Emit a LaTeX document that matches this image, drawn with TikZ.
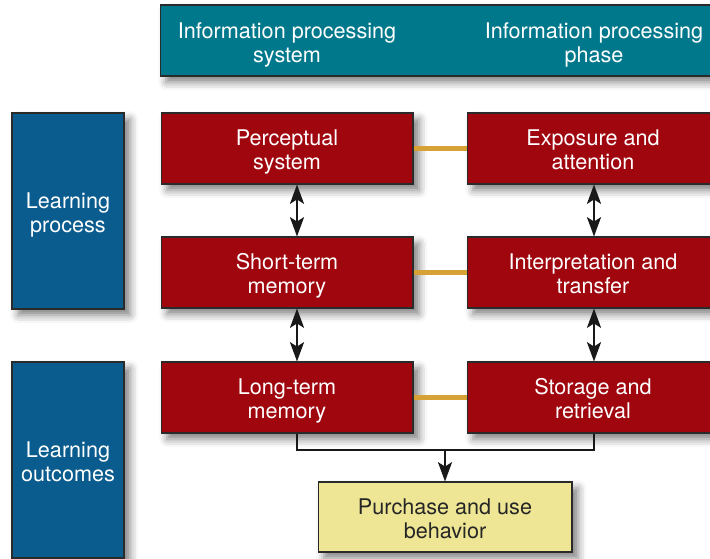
\documentclass[tikz,border=0pt]{standalone}
\usepackage{fontspec}
\setmainfont{TeX Gyre Heros}
\usetikzlibrary{arrows.meta, shadows.blur}
\definecolor{hdrteal}{HTML}{00788C}
\definecolor{lrnblue}{HTML}{0A5C8E}
\definecolor{memred}{HTML}{A0060E}
\definecolor{outyellow}{HTML}{EEE695}
\definecolor{linkgold}{HTML}{D6A135}
\definecolor{edgegray}{HTML}{2A2A2A}

\tikzset{
  twoline/.style={align=center, font=\fontsize{12.3}{13.6}\selectfont,
    text height=27pt, text depth=3pt},
  panel/.style={draw=edgegray, line width=0.6pt, twoline,
    blur shadow={shadow xshift=3.5pt, shadow yshift=-3.5pt,
      shadow blur radius=4.5pt, shadow opacity=50}},
  headbar/.style={panel, fill=hdrteal, minimum width=11.2cm, minimum height=1.42cm},
  sidebox/.style={panel, fill=lrnblue, text=white, minimum width=2.24cm, minimum height=3.92cm},
  membox/.style={panel, fill=memred, text=white, minimum width=5.04cm, minimum height=1.42cm},
  outbox/.style={panel, fill=outyellow, text=black!85, minimum width=5.08cm, minimum height=1.4cm},
  headtext/.style={twoline, text=white},
  goldlink/.style={linkgold, line width=2.8pt},
  dblarrow/.style={{Stealth[length=11pt,width=8pt,inset=2.5pt]}-{Stealth[length=11pt,width=8pt,inset=2.5pt]},
    line width=1.2pt, black!90},
  feedline/.style={line width=1pt, black!90}
}

\begin{document}
\begin{tikzpicture}[x=0.02cm, y=-0.02cm]
    \clip (0,0) rectangle (710,558);

    % column headings
    \node[headbar] (head) at (440, 40.5) {};
    \node[headtext] (headsys) at (287, 41) {Information processing\\system};
    \node[headtext] (headphase) at (594, 41) {Information processing\\phase};

    % learning side boxes
    \node[sidebox] (process) at (68, 211) {Learning\\process};
    \node[sidebox] (outcome) at (68, 460) {Learning\\outcomes};

    % system column
    \node[membox] (percept) at (287, 148.5) {Perceptual\\system};
    \node[membox] (shortmem) at (287, 272.5) {Short-term\\memory};
    \node[membox] (longmem) at (287, 397.5) {Long-term\\memory};

    % phase column
    \node[membox] (expose) at (593, 148.5) {Exposure and\\attention};
    \node[membox] (interp) at (593, 272.5) {Interpretation and\\transfer};
    \node[membox] (store) at (593, 397.5) {Storage and\\retrieval};

    % behaviour box
    \node[outbox] (buy) at (445, 517) {Purchase and use\\behavior};

    % links across the columns
    \draw[goldlink] (percept) -- (expose);
    \draw[goldlink] (shortmem) -- (interp);
    \draw[goldlink] (longmem) -- (store);

    % arrows within the columns
    \draw[dblarrow] ([xshift=0.2cm]percept.south) -- ([xshift=0.2cm]shortmem.north);
    \draw[dblarrow] ([xshift=0.2cm]shortmem.south) -- ([xshift=0.2cm]longmem.north);
    \draw[dblarrow] ([xshift=0.02cm]expose.south) -- ([xshift=0.02cm]interp.north);
    \draw[dblarrow] ([xshift=0.02cm]interp.south) -- ([xshift=0.02cm]store.north);

    % into behaviour
    \coordinate (join) at (445, 450);
    \draw[feedline] ([xshift=0.2cm]longmem.south) |- (join) -| ([xshift=0.02cm]store.south);
    \draw[feedline, -{Stealth[length=11pt,width=8pt,inset=2.5pt]}, line width=1.2pt] (join) -- (buy.north);
\end{tikzpicture}
\end{document}
